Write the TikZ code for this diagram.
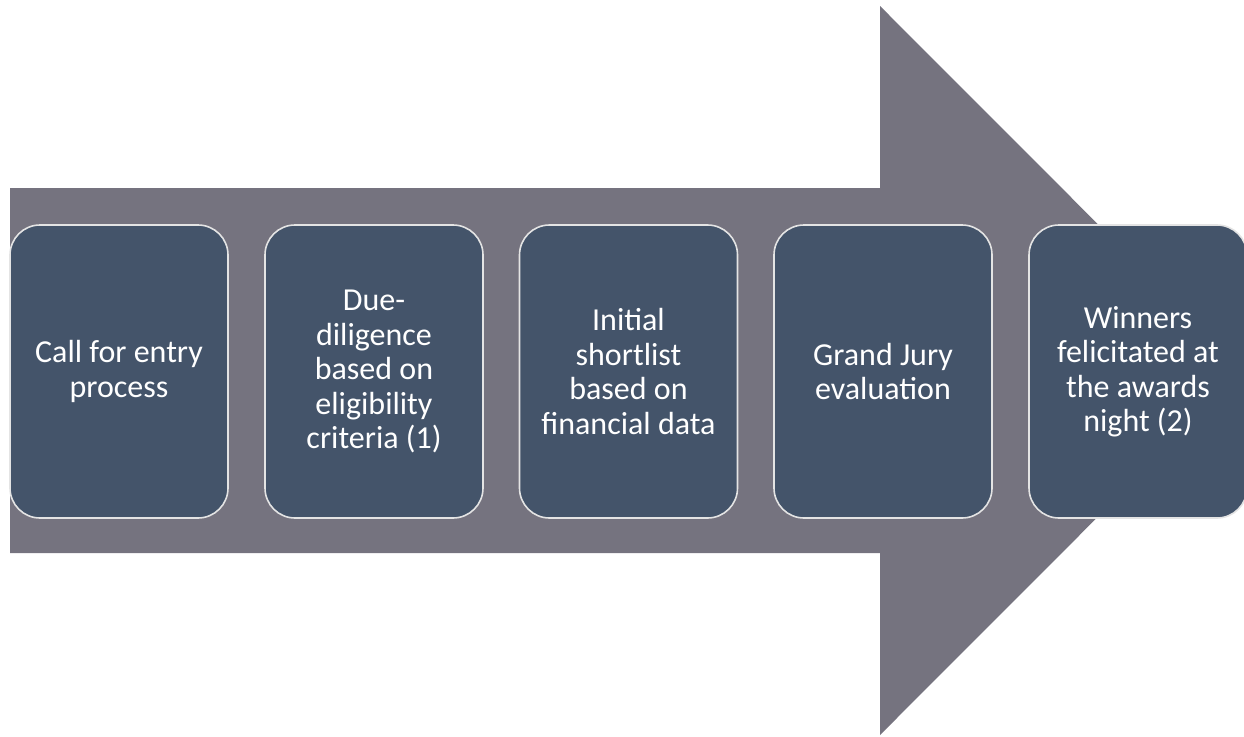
\documentclass[tikz,border=0pt]{standalone}
\usepackage{fontspec}
\setmainfont{Carlito}
\definecolor{arrowgray}{HTML}{75737F}
\definecolor{boxblue}{HTML}{44546A}
\definecolor{boxedge}{HTML}{E4E4E4}
\begin{document}
\begin{tikzpicture}[x=1pt,y=-1pt,
  stepbox/.style={draw=boxedge, line width=1.6pt, fill=boxblue, rounded corners=30pt,
    minimum width=218pt, minimum height=293pt, inner sep=0pt, align=center,
    text=white, font=\fontsize{32}{34.5}\selectfont}]
\useasboundingbox (0,0) rectangle (1244,736);
\clip (0,0) rectangle (1244,736);
\fill[arrowgray] (10,188) -- (880,188) -- (880,6) -- (1244,370.5) -- (880,735) -- (880,553) -- (10,553) -- cycle;
\node[stepbox] (s1) at (119,371.5) {Call for entry\\process};
\node[stepbox] (s2) at (374,371.5) {Due-\\diligence\\based on\\eligibility\\criteria (1)};
\node[stepbox] (s3) at (628.5,371.5) {Initial\\shortlist\\based on\\financial data};
\node[stepbox] (s4) at (883,371.5) {Grand Jury\\evaluation};
\node[stepbox] (s5) at (1138,371.5) {Winners\\felicitated at\\the awards\\night (2)};
\end{tikzpicture}
\end{document}
